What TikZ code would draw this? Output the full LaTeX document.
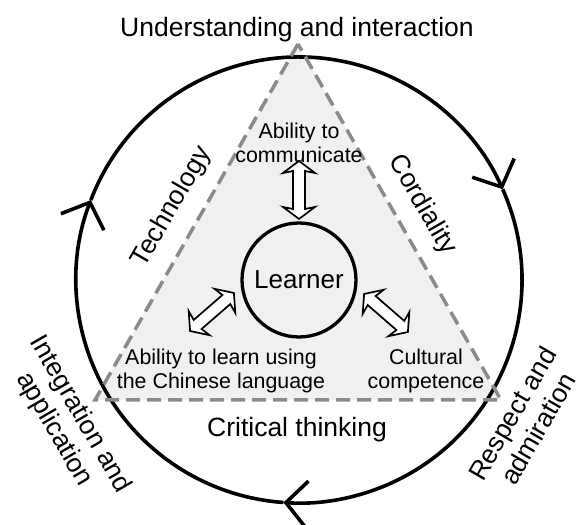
\documentclass[tikz,border=0pt]{standalone}
\usepackage{fontspec}
\setmainfont{Liberation Sans}
\usetikzlibrary{arrows.meta,calc}
\definecolor{trifill}{RGB}{240,240,240}
\definecolor{tridash}{RGB}{138,138,138}
\begin{document}
\begin{tikzpicture}[x=1pt,y=1pt,
  outer/.style={font=\fontsize{26.5}{30}\selectfont, align=center, inner sep=0pt},
  inlabel/.style={font=\fontsize{21.4}{24.5}\selectfont, align=center, inner sep=0pt},
  openarrow/.pic={
    \draw[black, fill=white, line width=1.7pt, line join=miter]
      (29,0) -- (17,16) -- (19,6) -- (-19,6) -- (-17,16) -- (-29,0)
      -- (-17,-16) -- (-19,-6) -- (19,-6) -- (17,-16) -- cycle;
  },
  ring/.style={line width=3.6pt, black},
  cycletip/.style={-{Straight Barb[length=21pt,width=46pt]}},
  tri/.style={draw=tridash, line width=3.5pt, dash pattern=on 14pt off 7pt},
  ]
\useasboundingbox (0,0) rectangle (582,525);
\coordinate (C) at (299,245);
\coordinate (A) at (298,481);
\coordinate (L) at (95,125);
\coordinate (R) at (501,125);
\fill[trifill] (A)--(L)--(R)--cycle;
\draw[ring, cycletip] ($(C)+(159:223)$) arc[start angle=159,end angle=24,radius=223];
\draw[ring, cycletip] ($(C)+(24:223)$) arc[start angle=24,end angle=-94,radius=223];
\draw[ring, cycletip] ($(C)+(-94:223)$) arc[start angle=-94,end angle=-201,radius=223];
\draw[tri] (A)--(L)--(R)--cycle;

\node[circle, draw, line width=3.3pt, minimum size=114pt, inner sep=0pt,
  font=\fontsize{26}{30}\selectfont] (learner) at (C) {Learner};

\node[inlabel] (comm) at (299,382) {Ability to\\communicate};
\node[inlabel] (chinese) at (221,154) {Ability to learn using\\the Chinese language};
\node[inlabel] (culture) at (426,154) {Cultural\\competence};

\pic[rotate=90] at (299,335) {openarrow};
\pic[rotate=41] at (212,213) {openarrow};
\pic[rotate=-41] at (386,212) {openarrow};

\node[outer, anchor=base] (top) at (297,488) {Understanding and interaction};
\node[outer, anchor=base] (crit) at (297,88) {Critical thinking};
\node[outer, rotate=60] (tech) at (172,318) {Technology};
\node[outer, rotate=-60] (cord) at (422,320) {Cordiality};
\node[outer, rotate=-60] (integ) at (67,103) {Integration and\\application};
\node[outer, rotate=60] (resp) at (525,104) {Respect and\\admiration};
\end{tikzpicture}
\end{document}
